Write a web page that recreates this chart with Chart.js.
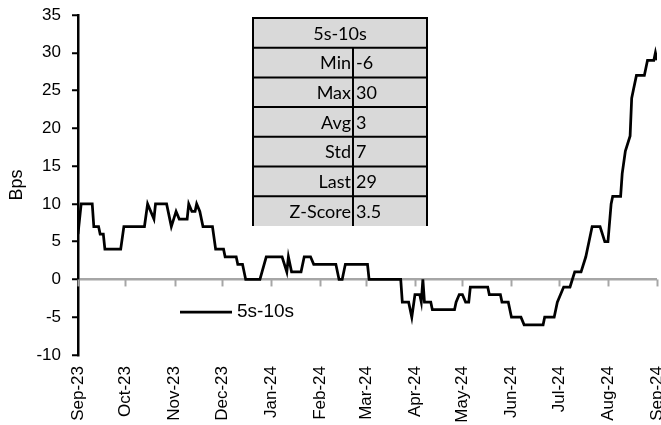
<!DOCTYPE html>
<html>
<head>
<meta charset="utf-8">
<script src="https://cdn.jsdelivr.net/npm/chart.js@4.4.1/dist/chart.umd.min.js"></script>
<style>
  html, body { margin: 0; padding: 0; background: #fff; }
  #wrap { width: 661px; height: 425px; }
</style>
</head>
<body>
<div id="wrap"><canvas id="spread" width="661" height="425"></canvas></div>
<script>
// 5s-10s spread (bps), daily, Sep-23 to Sep-24; x = days since 1 Sep 2023
const monthDays = [0, 30, 61, 91, 122, 153, 182, 213, 243, 274, 304, 335, 366];
const monthLabels = ['Sep-23', 'Oct-23', 'Nov-23', 'Dec-23', 'Jan-24', 'Feb-24', 'Mar-24',
                     'Apr-24', 'May-24', 'Jun-24', 'Jul-24', 'Aug-24', 'Sep-24'];

const days = [
    0, 2, 9, 10, 13, 14, 16, 17, 27, 29,
    42, 44, 48, 49, 56, 59, 62, 64, 69, 70,
    72, 74, 75, 77, 79, 85, 87, 92, 93, 100,
    101, 104, 106, 115, 119, 129, 132, 133, 135, 141,
    143, 147, 149, 163, 165, 167, 169, 183, 184, 204,
    205, 209, 211, 213, 216, 217, 218, 219, 223, 224,
    238, 239, 241, 243, 245, 247, 248, 259, 260, 267,
    268, 272, 274, 280, 282, 294, 295, 301, 303, 307,
    311, 314, 318, 321, 322, 323, 325, 330, 333, 335,
    337, 338, 343, 344, 346, 349, 350, 351, 353, 358,
    360, 364, 365, 366
];
const spread = [
    6, 10, 10, 7, 7, 6, 6, 4, 4, 7,
    7, 10, 8, 10, 10, 7, 9, 8, 8, 10,
    9, 9, 10, 9, 7, 7, 4, 4, 3, 3,
    2, 2, 0, 0, 3, 3, 1, 3, 1, 1,
    3, 3, 2, 2, 0, 0, 2, 2, 0, 0,
    -3, -3, -5, -2, -2, -3, 0, -3, -3, -4,
    -4, -3, -2, -2, -3, -3, -1, -1, -2, -2,
    -3, -3, -5, -5, -6, -6, -5, -5, -3, -1,
    -1, 1, 1, 3, 4, 5, 7, 7, 5, 5,
    10, 11, 11, 14, 17, 19, 24, 25, 27, 27,
    29, 29, 30, 29
];

const yMin = -10, yMax = 35, yStep = 5;

// summary box
const seriesName = '5s-10s';
const statNames = ['Min', 'Max', 'Avg', 'Std', 'Last', 'Z-Score'];
const statValues = ['-6', '30', '3', '7', '29', '3.5'];

const ARIAL = 'Liberation Sans, Arial, sans-serif';
Chart.defaults.font.family = ARIAL;
Chart.defaults.color = '#000';

// gray zero line tick marks at each month
const zeroTicks = {
    id: 'zeroTicks',
    beforeDatasetsDraw(chart) {
        const { ctx, scales: { x, y } } = chart;
        const y0 = y.getPixelForValue(0);
        ctx.save();
        ctx.strokeStyle = '#a6a6a6';
        ctx.lineWidth = 2;
        monthDays.forEach(d => {
            const px = Math.round(x.getPixelForValue(d)) + 0.5;
            ctx.beginPath();
            ctx.moveTo(px, y0);
            ctx.lineTo(px, y0 + 7);
            ctx.stroke();
        });
        ctx.restore();
    }
};

// stats table + legend
const overlay = {
    id: 'overlay',
    afterDraw(chart) {
        const ctx = chart.ctx;
        ctx.save();

        const left = 253, right = 427, mid = 353, top = 18, rowH = 29.7, bottom = 226;
        ctx.fillStyle = '#d9d9d9';
        ctx.fillRect(left, top, right - left, bottom - top);

        ctx.strokeStyle = '#000';
        ctx.lineWidth = 2;
        ctx.beginPath();
        ctx.moveTo(left, bottom); ctx.lineTo(left, top); ctx.lineTo(right, top); ctx.lineTo(right, bottom);
        ctx.moveTo(mid, top + rowH); ctx.lineTo(mid, bottom);
        for (let i = 1; i <= statNames.length; i++) {
            const yy = top + i * rowH;
            ctx.moveTo(left, yy); ctx.lineTo(right, yy);
        }
        ctx.stroke();

        ctx.fillStyle = '#000';
        ctx.font = "18px Lato, 'Open Sans', sans-serif";
        ctx.textBaseline = 'middle';
        ctx.textAlign = 'center';
        ctx.fillText(seriesName, (left + right) / 2, top + rowH / 2 + 1);
        statNames.forEach((name, i) => {
            const yy = top + (i + 1.5) * rowH + 1;
            ctx.textAlign = 'right';
            ctx.fillText(name, mid - 2, yy);
            ctx.textAlign = 'left';
            ctx.fillText(statValues[i], mid + 3, yy);
        });

        // legend
        ctx.strokeStyle = '#000';
        ctx.lineWidth = 2.75;
        ctx.beginPath();
        ctx.moveTo(180, 312);
        ctx.lineTo(232, 312);
        ctx.stroke();
        ctx.font = '19px ' + ARIAL;
        ctx.textAlign = 'left';
        ctx.fillText(seriesName, 237, 312);

        ctx.restore();
    }
};

new Chart(document.getElementById('spread'), {
    type: 'line',
    data: {
        datasets: [{
            label: seriesName,
            data: days.map((d, i) => ({ x: d, y: spread[i] })),
            borderColor: '#000',
            borderWidth: 2.75,
            pointRadius: 0,
            tension: 0,
            fill: false
        }]
    },
    options: {
        responsive: false,
        animation: false,
        devicePixelRatio: 1,
        layout: { padding: { top: 15, right: 0, left: 0, bottom: 0 } },
        plugins: {
            legend: { display: false },
            tooltip: { enabled: false }
        },
        scales: {
            x: {
                type: 'linear',
                min: 0,
                max: 366,
                afterBuildTicks: (scale) => {
                    scale.ticks = monthDays.map(v => ({ value: v }));
                },
                afterFit: (scale) => {
                    scale.height = 70;
                    scale.paddingLeft = 0;
                    scale.paddingRight = 4;
                    scale.paddingTop = 0;
                    scale.paddingBottom = 0;
                },
                ticks: {
                    autoSkip: false,
                    minRotation: 90,
                    maxRotation: 90,
                    padding: 11,
                    font: { size: 17, family: ARIAL },
                    callback: (v) => monthLabels[monthDays.indexOf(v)]
                },
                grid: { display: false, drawTicks: false },
                border: { display: false }
            },
            y: {
                min: yMin,
                max: yMax,
                afterFit: (scale) => {
                    scale.width = 78;
                    scale.paddingTop = 0;
                    scale.paddingBottom = 0;
                },
                ticks: {
                    stepSize: yStep,
                    padding: 11,
                    font: { size: 17, family: ARIAL }
                },
                title: {
                    display: true,
                    text: 'Bps',
                    font: { size: 18, family: ARIAL },
                    padding: { top: 6, bottom: 0 }
                },
                grid: {
                    color: (c) => c.tick && c.tick.value === 0 ? '#a6a6a6' : 'rgba(0,0,0,0)',
                    lineWidth: 2.5,
                    tickColor: '#000',
                    tickLength: 6,
                    tickWidth: 2
                },
                border: { color: '#000', width: 2.5 }
            }
        }
    },
    plugins: [zeroTicks, overlay]
});
</script>
</body>
</html>
